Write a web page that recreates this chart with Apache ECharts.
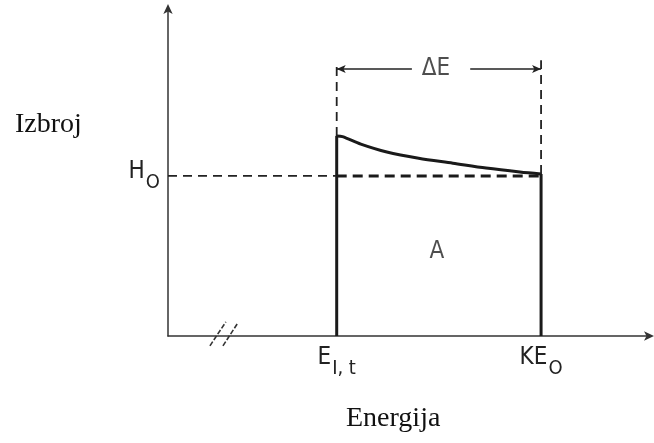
<!DOCTYPE html>
<html><head><meta charset="utf-8">
<script src="https://cdn.jsdelivr.net/npm/echarts@6/dist/echarts.min.js"></script>
<style>html,body{margin:0;padding:0;background:#fff}#c{width:654px;height:443px}</style>
</head><body><div id="c"></div>
<script>
// ---- data (axis units) ----
const eStart = 35.0;          // E_I,t
const eEnd = 77.4;            // KE_0
const h0 = 48.8;              // H_0 level
const xTickValues = [eStart, eEnd];
const xTickLabels = ['{m|E}{s|I, t}', '{m|KE}{s|O}'];
const yTickValues = [h0];
const yTickLabels = ['{m|H}{s|O}'];
// top of the spectrum (energy, count)
const curveX = [35.0, 36.2, 40.0, 45.4, 52.0, 59.1, 66.0, 73.0, 77.4];
const curveY = [61.0, 60.8, 58.5, 56.1, 54.2, 52.7, 51.2, 50.0, 49.4];
const peakY = 61.0;
const endY = 49.4;
const guideTop = [83.8, 84.1];      // top of vertical dashed guides
const deltaLevel = 81.4;             // ΔE dimension line
const deltaGap = [50.6, 62.7];       // gap for ΔE text
const areaLabelPos = [55.8, 25.6];   // "A"
const deltaLabelPos = [55.6, 81.4];  // "ΔE"
const breakMarks = [[[8.7, -3.0], [12.0, 4.3]], [[11.4, -3.0], [14.5, 4.0]]];

const sans = "'Liberation Sans Narrow','DejaVu Sans Condensed','Liberation Sans',sans-serif";
const serif = "'Liberation Serif','DejaVu Serif',serif";
const ink = '#1a1a1a';

function seg(points, width, type, color, smooth) {
  return {
    type: 'line', data: points, symbol: 'none', silent: true, clip: false, smooth: smooth || false,
    lineStyle: { width: width, type: type, color: color || ink },
    animation: false, z: 3
  };
}
const curveData = curveX.map((x, i) => [x, curveY[i]]);

const richLbl = {
  m: { fontFamily: sans, fontSize: 24, lineHeight: 24, color: '#222', verticalAlign: 'top' },
  s: { fontFamily: sans, fontSize: 20, lineHeight: 33, color: '#222', verticalAlign: 'bottom', padding: [0, 0, 0, 1] }
};

const chart = echarts.init(document.getElementById('c'), null, { renderer: 'canvas' });
chart.setOption({
  animation: false,
  backgroundColor: '#fff',
  grid: { left: 168, right: 4, top: 8, bottom: 107, containLabel: false },
  xAxis: {
    type: 'value', min: 0, max: 100,
    splitLine: { show: false },
    axisTick: { show: false },
    axisLine: { show: true, onZero: false, lineStyle: { color: '#333', width: 1.5 },
      symbol: ['none', 'arrow'], symbolSize: [7, 10], symbolOffset: [0, 4] },
    axisLabel: {
      show: true, margin: 10, customValues: xTickValues,
      formatter: v => xTickLabels[xTickValues.indexOf(v)] || '',
      rich: richLbl
    }
  },
  yAxis: {
    type: 'value', min: 0, max: 100,
    splitLine: { show: false },
    axisTick: { show: false },
    axisLine: { show: true, onZero: false, lineStyle: { color: '#333', width: 1.5 },
      symbol: ['none', 'arrow'], symbolSize: [7, 10], symbolOffset: [0, 4] },
    axisLabel: {
      show: true, margin: 8, customValues: yTickValues,
      formatter: v => yTickLabels[yTickValues.indexOf(v)] || '',
      rich: richLbl
    }
  },
  series: [
    seg([[eStart, 0], [eStart, peakY]], 3),
    seg([[eEnd, 0], [eEnd, endY]], 3),
    seg(curveData, 3, 'solid', ink, 0.3),
    seg([[0, h0], [eStart, h0]], 1.8, [9, 6], '#222'),
    seg([[eStart, h0], [eEnd, h0]], 3, [10, 6]),
    seg([[eStart, peakY], [eStart, guideTop[0]]], 1.8, [9, 6], '#222'),
    seg([[eEnd, endY], [eEnd, guideTop[1]]], 1.8, [9, 6], '#222'),
    seg(breakMarks[0], 1.6, [5, 2], '#333'),
    seg(breakMarks[1], 1.6, [5, 2], '#333'),
    {
      type: 'line', data: [], symbol: 'none', silent: true,
      markLine: {
        silent: true, animation: false, label: { show: false },
        lineStyle: { color: '#222', width: 1.6, type: 'solid' },
        symbolSize: [6, 9],
        data: [
          [{ coord: [eStart, deltaLevel], symbol: 'arrow' }, { coord: [deltaGap[0], deltaLevel], symbol: 'none' }],
          [{ coord: [deltaGap[1], deltaLevel], symbol: 'none' }, { coord: [eEnd, deltaLevel], symbol: 'arrow' }]
        ]
      }
    },
    {
      type: 'scatter', symbolSize: 0, silent: true, z: 5,
      data: [
        { value: areaLabelPos, label: { formatter: 'A' } },
        { value: deltaLabelPos, label: { formatter: 'ΔE' } }
      ],
      label: { show: true, position: 'inside', fontFamily: sans, fontSize: 24, color: '#222' }
    }
  ],
  graphic: [
    { type: 'text', left: 15, top: 111, style: { text: 'Izbroj', font: '28px ' + serif, fill: '#111' } },
    { type: 'text', left: 346, top: 405, style: { text: 'Energija', font: '28px ' + serif, fill: '#111' } }
  ]
});
</script></body></html>
